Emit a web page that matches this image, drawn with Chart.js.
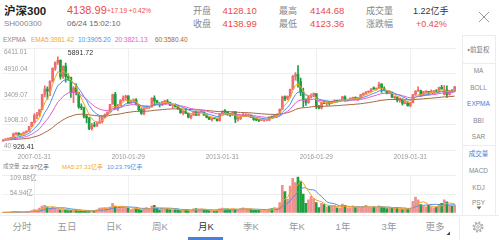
<!DOCTYPE html>
<html>
<head>
<meta charset="utf-8">
<script src="https://cdn.jsdelivr.net/npm/chart.js@4.4.1/dist/chart.umd.min.js"></script>
<style>
body { margin: 0; width: 499px; height: 240px; overflow: hidden; background: #fff; position: relative;
       font-family: "Liberation Sans", "Noto Sans CJK SC", sans-serif; }
.t { position: absolute; white-space: nowrap; }
canvas { position: absolute; }
.line { position: absolute; background: #ececec; }
</style>
</head>
<body>
<canvas id="priceChart" width="460" height="118" style="left:0;top:44px"></canvas>
<canvas id="volChart" width="460" height="41" style="left:0;top:172px"></canvas>
<div id="ui"></div>
<script>
// Monthly K-line, 2006-01 .. 2020-06
const months = [];
for (let y = 2006; y <= 2020; y++) {
    for (let m = 1; m <= 12; m++) {
        if (y === 2020 && m > 6) break;
        months.push(y + '-' + String(m).padStart(2, '0'));
    }
}

const open = [
    927,1006,1043,1044,1152,1355,1390,1318,1365,1460,1522,1790,
    2050,2430,2470,2785,3680,3995,3860,4480,5230,5560,5680,4730,
    5350,4700,4680,3780,4060,3780,2950,2890,2400,2300,1660,1870,
    1820,1990,2080,2330,2480,2650,3100,3680,2880,3030,3330,3480,
    3590,3200,3300,3350,3070,2780,2560,2870,2900,2940,3460,3300,
    3130,3080,3250,3260,3200,3030,3040,2950,2840,2600,2700,2560,
    2340,2460,2630,2450,2630,2640,2460,2330,2200,2290,2250,2140,
    2530,2690,2670,2500,2450,2640,2220,2230,2380,2410,2410,2440,
    2330,2200,2180,2150,2160,2160,2165,2350,2330,2450,2510,2810,
    3540,3430,3570,3980,4750,4860,4440,3820,3360,3200,3530,3570,
    3725,2946,2880,3220,3150,3170,3150,3200,3325,3250,3340,3540,
    3310,3390,3450,3460,3440,3490,3660,3740,3820,3840,4010,4000,
    4045,4280,4020,3900,3750,3800,3500,3520,3330,3400,3150,3170,
    3020,3200,3680,3880,3900,3640,3830,3830,3800,3810,3890,3830,
    4100,3700,3950,3680,3910,3870
];
const high = [
    1013,1070,1060,1160,1400,1430,1430,1370,1460,1530,1800,2045,
    2550,2620,2790,3690,4180,4130,4480,5250,5600,5891.72,5720,5360,
    5525,4890,4700,4140,4300,3800,3130,2930,2480,2320,1970,2030,
    2030,2400,2400,2540,2650,3090,3700,3800,3100,3380,3600,3640,
    3600,3340,3420,3430,3100,2840,2880,3010,2960,3500,3600,3330,
    3200,3270,3330,3370,3230,3090,3130,3020,2860,2730,2840,2580,
    2480,2690,2700,2650,2720,2650,2490,2370,2300,2320,2290,2530,
    2720,2790,2690,2570,2650,2680,2330,2440,2560,2550,2540,2470,
    2340,2270,2200,2240,2190,2200,2380,2410,2480,2530,2810,3580,
    3600,3600,4000,4800,4960,5380.43,4640,4050,3420,3560,3720,3770,
    3730,3030,3230,3270,3180,3200,3290,3360,3340,3380,3560,3590,
    3400,3480,3520,3530,3500,3670,3770,3850,3880,4010,4120,4050,
    4403,4310,4130,3910,3900,3830,3580,3530,3450,3420,3330,3250,
    3210,3680,3890,4127,3930,3860,3880,3850,3950,3920,3970,4110,
    4220,4200,4190,3920,3960,4144.68
];
const low = [
    926.41,1000,1005,1040,1150,1300,1260,1270,1340,1430,1500,1780,
    2000,2250,2380,2780,3530,3400,3600,4420,5090,5440,4580,4620,
    4400,4500,3500,3200,3650,2850,2780,2300,2000,1600,1580,1760,
    1800,1970,1990,2330,2470,2640,3100,2850,2720,2980,3300,3360,
    3160,3160,3200,3050,2690,2500,2470,2840,2840,2930,3020,3090,
    2940,3020,3130,3180,3010,2850,2940,2790,2560,2470,2560,2290,
    2240,2450,2430,2430,2590,2450,2300,2200,2100,2240,2100,2100,
    2520,2600,2440,2380,2450,2020,2110,2210,2370,2380,2360,2320,
    2150,2140,2080,2140,2090,2120,2140,2310,2320,2400,2480,2800,
    3310,3360,3490,3980,4520,4100,3600,2950,3030,3150,3460,3530,
    2840,2820,2810,3140,3020,3050,3130,3200,3210,3250,3330,3260,
    3280,3380,3410,3400,3330,3460,3590,3700,3780,3830,3980,3960,
    4040,3800,3880,3710,3740,3480,3390,3240,3220,3050,3120,2990,
    2940,3180,3620,3860,3560,3610,3750,3650,3780,3780,3820,3830,
    3980,3650,3500,3640,3810,3860
];
const close = [
    1006,1043,1043,1150,1357,1389,1321,1364,1459,1521,1788,2041,
    2432,2472,2781,3676,3989,3877,4471,5218,5552,5688,4737,5338,
    4731,4670,3790,4050,3785,2947,2900,2400,2290,1660,1870,1818,
    1990,2080,2330,2480,2640,3090,3670,2880,3030,3320,3470,3576,
    3200,3300,3350,3070,2780,2560,2870,2900,2935,3450,3300,3128,
    3080,3240,3260,3200,3030,3040,2950,2840,2600,2700,2560,2346,
    2460,2630,2450,2630,2640,2460,2330,2200,2290,2250,2140,2523,
    2690,2670,2500,2450,2640,2220,2230,2380,2410,2410,2440,2330,
    2200,2180,2150,2160,2160,2165,2350,2330,2450,2510,2810,3534,
    3434,3572,3980,4750,4840,4473,3816,3366,3203,3534,3566,3731,
    2946,2877,3218,3156,3170,3154,3204,3327,3253,3336,3538,3310,
    3387,3453,3456,3439,3493,3666,3737,3822,3837,4006,4006,4030,
    4275,4023,3898,3756,3802,3510,3517,3335,3438,3153,3172,3010,
    3201,3670,3872,3913,3629,3825,3835,3799,3814,3886,3828,4096,
    4003,3940,3686,3912,3867,4138.99
];
// volume, 亿手
const volume = [
    2,2,2,3,5,4,3,3,3,4,5,7,
    10,9,14,20,22,18,14,17,14,13,9,10,
    9,7,8,10,8,6,6,5,6,5,7,8,
    10,14,15,16,15,17,28,20,13,18,19,17,
    14,10,12,13,11,8,12,16,11,20,22,13,
    9,11,14,13,10,9,10,9,7,9,9,7,
    6,12,13,12,12,8,8,7,6,5,7,12,
    14,12,12,9,12,11,10,13,15,11,11,10,
    8,9,9,8,7,8,12,13,16,14,30,80,
    62,40,78,100,88,104,92,55,28,38,48,42,
    30,16,28,24,18,20,19,22,15,14,26,22,
    15,16,20,16,16,17,19,22,16,14,18,15,
    21,18,16,13,15,14,14,14,11,10,14,11,
    14,34,46,38,24,20,18,22,18,15,17,25,
    28,38,32,22,20,22.97
];

const priceTicks = [407.13, 1908.10, 3409.07, 4910.04, 6411.01];
const volTicks = [0, 54.94, 109.88];
const tickMonths = ['2007-01', '2010-01', '2013-01', '2016-01', '2019-01'];
const tickLabels = ['2007-01-31', '2010-01-29', '2013-01-31', '2016-01-29', '2019-01-31'];

const RED = '#f06c6c';
const GREEN = '#1c9e3c';
const GRID = '#efefef';
const emaColors = ['#f5a623', '#4f8fe8', '#e35bd0', '#a5653e'];

// EXPMA lines derived from close
function ema(src, n) {
    const k = 2 / (n + 1);
    const out = [];
    src.forEach((v, i) => out.push(i === 0 ? v : v * k + out[i - 1] * (1 - k)));
    return out;
}
function ma(src, n) {
    return src.map((v, i) => {
        const part = src.slice(Math.max(0, i - n + 1), i + 1);
        return part.reduce((a, b) => a + b, 0) / part.length;
    });
}

const upDown = close.map((c, i) => c >= open[i]);
const candleColors = upDown.map(u => u ? RED : GREEN);

const xAxis = (showLabels) => ({
    offset: true,
    grid: {
        offset: false,
        drawTicks: false,
        color: ctx => tickMonths.includes(months[ctx.index]) ? GRID : 'rgba(0,0,0,0)'
    },
    border: { display: false },
    ticks: {
        display: showLabels,
        autoSkip: false,
        maxRotation: 0,
        padding: 3,
        color: '#999',
        font: { size: 6.5, family: 'Liberation Sans' },
        callback: (v, i) => {
            const k = tickMonths.indexOf(months[i]);
            return k >= 0 ? tickLabels[k] : '';
        }
    },
    afterFit: s => { s.height = showLabels ? 12 : 0; }
});

const yAxis = (ticks) => ({
    min: ticks[0],
    max: ticks[ticks.length - 1],
    grid: { color: GRID, drawTicks: false },
    border: { display: false },
    ticks: { display: false },
    afterBuildTicks: s => { s.ticks = ticks.map(v => ({ value: v })); },
    afterFit: s => { s.width = 0; }
});

// y labels and min / max marks
const priceLabels = {
    id: 'priceLabels',
    afterDraw(chart) {
        const { ctx, scales } = chart;
        const y = scales.y, x = scales.x;
        ctx.save();
        ctx.font = '6.5px "Liberation Sans"';
        ctx.fillStyle = '#999';
        ctx.textBaseline = 'middle';
        priceTicks.forEach((v, i) => {
            const py = y.getPixelForValue(v);
            const dy = i === priceTicks.length - 1 ? 4.5 : -4;
            ctx.fillText(v.toFixed(2), 4, py + dy);
        });
        const hi = Math.max(...high), lo = Math.min(...low);
        const hiX = x.getPixelForValue(high.indexOf(hi));
        const loX = x.getPixelForValue(low.indexOf(lo));
        ctx.font = '7px "Liberation Sans"';
        ctx.fillStyle = '#333';
        ctx.fillText(hi.toFixed(2), hiX + 10, y.getPixelForValue(hi) - 4);
        const loY = y.getPixelForValue(lo) + 6;
        const w = ctx.measureText(lo.toFixed(2)).width;
        ctx.fillStyle = '#fff';
        ctx.fillRect(loX + 9, loY - 4, w + 2, 8);
        ctx.fillStyle = '#333';
        ctx.fillText(lo.toFixed(2), loX + 10, loY);
        ctx.restore();
    }
};

const volLabels = {
    id: 'volLabels',
    afterDraw(chart) {
        const { ctx, scales } = chart;
        ctx.save();
        ctx.font = '6.5px "Liberation Sans", "Noto Sans CJK SC"';
        ctx.fillStyle = '#999';
        ctx.textBaseline = 'middle';
        ctx.fillText(volTicks[2].toFixed(2) + '亿', 10, scales.y.getPixelForValue(volTicks[2]) + 3.5);
        ctx.fillText(volTicks[1].toFixed(2) + '亿', 10, scales.y.getPixelForValue(volTicks[1]) - 1);
        ctx.restore();
    }
};

const emaSets = [5, 10, 20, 60].map((n, i) => ({
    type: 'line',
    data: ema(close, n),
    borderColor: emaColors[i],
    borderWidth: 1,
    pointRadius: 0,
    fill: false,
    order: 0
}));

new Chart(document.getElementById('priceChart'), {
    type: 'bar',
    data: {
        labels: months,
        datasets: [
            ...emaSets,
            {
                data: open.map((o, i) => [o, close[i]]),
                backgroundColor: candleColors,
                barThickness: 2,
                minBarLength: 1,
                grouped: false,
                order: 1
            },
            {
                data: low.map((l, i) => [l, high[i]]),
                backgroundColor: candleColors,
                barThickness: 1,
                grouped: false,
                order: 2
            }
        ]
    },
    options: {
        responsive: false,
        animation: false,
        devicePixelRatio: 1,
        layout: { padding: { left: 1.5, right: 4, top: 4, bottom: 0 } },
        plugins: { legend: { display: false }, tooltip: { enabled: false } },
        scales: { x: xAxis(true), y: yAxis(priceTicks) }
    },
    plugins: [priceLabels]
});

new Chart(document.getElementById('volChart'), {
    type: 'bar',
    data: {
        labels: months,
        datasets: [
            { type: 'line', data: ma(volume, 5), borderColor: emaColors[0], borderWidth: 1, pointRadius: 0, order: 0 },
            { type: 'line', data: ma(volume, 10), borderColor: emaColors[1], borderWidth: 1, pointRadius: 0, order: 0 },
            {
                data: volume,
                backgroundColor: upDown.map(u => u ? '#f29090' : GREEN),
                barThickness: 2,
                order: 1
            }
        ]
    },
    options: {
        responsive: false,
        animation: false,
        devicePixelRatio: 1,
        layout: { padding: { left: 1.5, right: 4, top: 3, bottom: 0 } },
        plugins: { legend: { display: false }, tooltip: { enabled: false } },
        scales: { x: xAxis(false), y: yAxis(volTicks) }
    },
    plugins: [volLabels]
});

// text around the charts
const ui = document.getElementById('ui');
function txt(x, cy, s, size, color, extra) {
    const el = document.createElement('div');
    el.className = 't';
    el.textContent = s;
    el.style.left = x + 'px';
    el.style.top = (cy - size / 2) + 'px';
    el.style.fontSize = size + 'px';
    el.style.lineHeight = size + 'px';
    el.style.color = color;
    if (extra) Object.assign(el.style, extra);
    ui.appendChild(el);
}
function box(x, y, w, h, color) {
    const el = document.createElement('div');
    el.className = 'line';
    Object.assign(el.style, { left: x + 'px', top: y + 'px', width: w + 'px', height: h + 'px' });
    if (color) el.style.background = color;
    ui.appendChild(el);
}

const PRICE_RED = '#ec4a4a';
const LABEL = '#888';
const center = { transform: 'translateX(-50%)' };

// header
txt(4, 11.5, '沪深300', 11.5, '#222', { fontWeight: 'bold' });
txt(67, 10.5, '4138.99', 11, PRICE_RED);
txt(107, 11, '+17.19 +0.42%', 6.5, PRICE_RED);
txt(4, 24, 'SH000300', 8, LABEL);
txt(67, 24, '06/24 15:02:10', 8, '#666');
txt(193, 11, '开盘', 9, LABEL);
txt(222.5, 11, '4128.10', 9.5, PRICE_RED);
txt(193, 24, '收盘', 9, LABEL);
txt(222.5, 24, '4138.99', 9.5, PRICE_RED);
txt(279, 11, '最高', 9, LABEL);
txt(310, 11, '4144.68', 9.5, PRICE_RED);
txt(279, 24, '最低', 9, LABEL);
txt(310, 24, '4123.36', 9.5, PRICE_RED);
txt(366, 11, '成交量', 9, LABEL);
txt(413, 11, '1.22亿手', 9, '#333');
txt(366, 24, '涨跌幅', 9, LABEL);
txt(416, 24, '+0.42%', 9, PRICE_RED);

// price legend
txt(3, 40.5, 'EXPMA', 6.5, LABEL);
txt(31, 40.5, 'EMA5:3961.42', 6.5, emaColors[0]);
txt(78, 40.5, '10:3905.20', 6.5, emaColors[1]);
txt(115, 40.5, '20:3821.13', 6.5, emaColors[2]);
txt(155, 40.5, '60:3580.40', 6.5, emaColors[3]);

// volume legend
txt(3, 167, '成交量', 5.5, LABEL);
txt(22, 167, '22.97亿手', 6, '#666');
txt(62, 167, 'MA5:27.31亿手', 6, emaColors[0]);
txt(107, 167, '10:23.79亿手', 6, emaColors[1]);

// side menu
box(462, 35, 1, 181);
box(495, 35, 1, 181);
box(462, 35, 34, 1);
box(462, 63, 34, 1);
box(462, 145, 34, 1);
const sideItems = ['MA', 'BOLL', 'EXPMA', 'BBI', 'SAR', '成交量', 'MACD', 'KDJ', 'PSY'];
const sideY = [71, 88, 104.7, 121, 137, 154.7, 171, 188, 203];
txt(478.5, 50.7, '•前复权', 6.5, '#777', center);
sideItems.forEach((s, i) => {
    const active = s === 'EXPMA' || s === '成交量';
    txt(478.5, sideY[i], s, 6.5, active ? '#3d7fd9' : LABEL, center);
});

// tab bar
box(0, 215, 499, 1);
box(459, 217, 1, 23);
const tabs = ['分时', '五日', '日K', '周K', '月K', '季K', '年K', '1年', '3年', '更多'];
const tabX = [22, 67, 114, 160, 206, 251, 297, 343, 389, 435];
tabs.forEach((s, i) => txt(tabX[i], 227, s, 9.5, s === '月K' ? '#333' : '#999', center));
box(188, 237, 35, 3, '#4a80d8');
</script>
<svg width="499" height="240" style="position:absolute;left:0;top:0;pointer-events:none">
  <path d="M479 12 L489 22 M489 12 L479 22" stroke="#999" stroke-width="1"/>
  <polygon points="476.5,206.5 481.5,206.5 479,209.5" fill="#666"/>
  <polygon points="446.5,235 450,235 450,231.5" fill="#444"/>
  <circle cx="478" cy="227" r="4.6" fill="none" stroke="#aaa" stroke-width="1.8" stroke-dasharray="1.9 1.7"/>
  <circle cx="478" cy="227" r="3.4" fill="none" stroke="#aaa" stroke-width="1"/>
  <circle cx="478" cy="227" r="1.3" fill="none" stroke="#aaa" stroke-width="0.9"/>
</svg>
</body>
</html>
